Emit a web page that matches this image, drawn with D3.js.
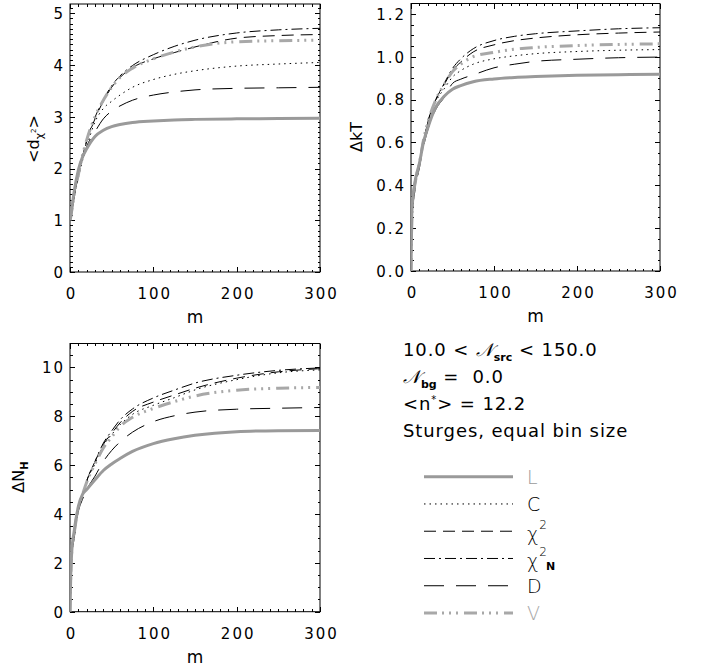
<!DOCTYPE html>
<html><head><meta charset="utf-8">
<script src="https://cdn.jsdelivr.net/npm/d3@7"></script>
<style>
body{margin:0;background:#fff;}
svg{display:block;font-family:"DejaVu Sans",sans-serif;}
</style></head><body>
<svg id="c" width="701" height="669"></svg>
<script>
// ---------- data ----------
const mValues = [0,1,2,5,10,15,20,30,40,50,60,75,100,125,150,200,250,300];
const seriesNames = ["L","C","chi2","chi2N","D","V"];

// <d_chi2>
const dchi_L     = [1.0,1.08,1.2,1.55,1.97,2.22,2.38,2.62,2.74,2.81,2.85,2.89,2.92,2.94,2.95,2.96,2.965,2.97];
const dchi_C     = [1.0,1.07,1.15,1.45,1.82,2.15,2.42,2.9,3.16,3.30,3.42,3.57,3.72,3.82,3.89,3.98,4.02,4.05];
const dchi_chi2  = [1.0,1.07,1.15,1.46,1.85,2.22,2.52,2.96,3.30,3.57,3.76,3.95,4.12,4.24,4.35,4.52,4.57,4.59];
const dchi_chi2N = [1.0,1.07,1.15,1.46,1.85,2.23,2.54,2.99,3.33,3.60,3.79,3.99,4.20,4.36,4.48,4.62,4.68,4.71];
const dchi_D     = [1.0,1.07,1.15,1.45,1.88,2.17,2.42,2.71,2.96,3.11,3.21,3.32,3.42,3.48,3.52,3.55,3.56,3.57];
const dchi_V     = [1.0,1.08,1.18,1.5,1.88,2.25,2.55,3.0,3.32,3.57,3.76,3.94,4.12,4.25,4.35,4.45,4.47,4.48];

// Delta kT
const kT_L     = [0,0.27,0.33,0.42,0.50,0.60,0.665,0.765,0.815,0.848,0.865,0.883,0.896,0.903,0.907,0.913,0.916,0.918];
const kT_C     = [0,0.22,0.30,0.40,0.49,0.59,0.67,0.79,0.85,0.905,0.935,0.965,0.99,1.004,1.014,1.024,1.03,1.033];
const kT_chi2  = [0,0.22,0.30,0.40,0.50,0.60,0.69,0.80,0.87,0.935,0.975,1.022,1.055,1.075,1.087,1.102,1.11,1.115];
const kT_chi2N = [0,0.22,0.30,0.40,0.50,0.60,0.69,0.80,0.875,0.945,0.99,1.037,1.075,1.095,1.107,1.12,1.13,1.135];
const kT_D     = [0,0.20,0.28,0.38,0.48,0.58,0.655,0.755,0.81,0.875,0.895,0.915,0.948,0.965,0.978,0.988,0.995,0.998];
const kT_V     = [0,0.25,0.32,0.41,0.50,0.61,0.69,0.80,0.87,0.93,0.965,1.0,1.02,1.035,1.043,1.052,1.057,1.06];

// Delta N_H
const NH_L     = [0,1.6,2.4,3.3,4.3,4.8,5.0,5.4,5.78,6.05,6.27,6.56,6.88,7.08,7.22,7.37,7.41,7.42];
const NH_C     = [0,1.5,2.3,3.1,4.2,4.75,5.3,6.05,6.8,7.25,7.65,8.08,8.45,8.76,9.08,9.5,9.78,9.9];
const NH_chi2  = [0,1.5,2.3,3.1,4.2,4.8,5.35,6.15,6.85,7.3,7.73,8.2,8.58,8.87,9.15,9.56,9.82,9.95];
const NH_chi2N = [0,1.5,2.3,3.1,4.2,4.8,5.35,6.15,6.9,7.4,7.85,8.3,8.75,9.07,9.36,9.68,9.88,9.98];
const NH_D     = [0,1.4,2.2,3.0,4.1,4.6,5.0,5.55,6.15,6.6,6.95,7.35,7.78,8.02,8.17,8.29,8.33,8.36];
const NH_V     = [0,1.6,2.4,3.2,4.25,4.8,5.3,6.05,6.7,7.15,7.58,7.96,8.32,8.6,8.83,9.07,9.15,9.18];

const xTickLabels = [0,100,200,300];
const dchiTicks = [0,1,2,3,4,5];
const kTTicks = [0.0,0.2,0.4,0.6,0.8,1.0,1.2];
const NHTicks = [0,2,4,6,8,10];

const infoLines = ["10.0 < ", " < 150.0", " =  0.0", "> = 12.2", "Sturges, equal bin size"];

// ---------- styles ----------
const styles = {
  L:     {stroke:"#9a9a9a", width:3, dash:null},
  C:     {stroke:"#000", width:1, dash:"1.5,4"},
  chi2:  {stroke:"#000", width:1, dash:"12,7"},
  chi2N: {stroke:"#000", width:1, dash:"11,4,2,4"},
  D:     {stroke:"#000", width:1, dash:"20,12"},
  V:     {stroke:"#a8a8a8", width:3, dash:"13,5,2,5,2,5,2,6"}
};
const drawOrder = ["chi2N","chi2","C","D","V","L"];

const svg = d3.select("#c");
const TICKFONT = 15, LS = 2;

function panel(cfg){
  const x = d3.scaleLinear().domain([0,300]).range([cfg.x0,cfg.x1]);
  const y = d3.scaleLinear().domain(cfg.yDomain).range([cfg.y1,cfg.y0]);
  const g = svg.append("g");
  const xMinor = d3.range(0,301,10);
  const yMinor = d3.range(cfg.yDomain[0], cfg.yDomain[1]+1e-9, cfg.yMinorStep).map(v=>+v.toFixed(4));
  const maj = 5, min = 2.5;
  const axes = [
    [d3.axisBottom(x), `translate(0,${cfg.y1})`, xMinor, xTickLabels],
    [d3.axisTop(x), `translate(0,${cfg.y0})`, xMinor, xTickLabels],
    [d3.axisLeft(y), `translate(${cfg.x0},0)`, yMinor, cfg.yTicks],
    [d3.axisRight(y), `translate(${cfg.x1},0)`, yMinor, cfg.yTicks]
  ];
  axes.forEach(([ax,tr,minorV,majorV])=>{
    const a1 = ax.copy ? ax : ax;
    g.append("g").attr("transform",tr)
      .call(a1.tickValues(minorV).tickSizeInner(-min).tickSizeOuter(0).tickFormat(""))
      .call(s=>s.select(".domain").remove());
  });
  [[d3.axisBottom(x), `translate(0,${cfg.y1})`, xTickLabels],
   [d3.axisTop(x), `translate(0,${cfg.y0})`, xTickLabels],
   [d3.axisLeft(y), `translate(${cfg.x0},0)`, cfg.yTicks],
   [d3.axisRight(y), `translate(${cfg.x1},0)`, cfg.yTicks]].forEach(([ax,tr,v])=>{
    g.append("g").attr("transform",tr)
      .call(ax.tickValues(v).tickSizeInner(-maj).tickSizeOuter(0).tickFormat(""))
      .call(s=>s.select(".domain").remove());
  });
  g.selectAll(".tick line").attr("stroke","#000").attr("shape-rendering","crispEdges");
  // labels via axes
  const bx = g.append("g").attr("transform",`translate(0,${cfg.y1})`)
    .call(d3.axisBottom(x).tickValues(xTickLabels).tickSize(0).tickFormat(d3.format("d")));
  bx.select(".domain").remove();
  bx.selectAll("text").attr("y",27.3).attr("dy",null).attr("dx",LS/2)
    .attr("font-size",TICKFONT).attr("letter-spacing",LS).attr("font-family","DejaVu Sans").attr("fill","#000");
  const ly = g.append("g").attr("transform",`translate(${cfg.x0},0)`)
    .call(d3.axisLeft(y).tickValues(cfg.yTicks).tickSize(0).tickFormat(d3.format(cfg.fmt)));
  ly.select(".domain").remove();
  ly.selectAll("text").attr("x",-7+LS).attr("dy","0.36em")
    .attr("font-size",TICKFONT).attr("letter-spacing",LS).attr("font-family","DejaVu Sans").attr("fill","#000");
  // frame
  g.append("rect").attr("x",cfg.x0).attr("y",cfg.y0).attr("width",cfg.x1-cfg.x0).attr("height",cfg.y1-cfg.y0)
    .attr("fill","none").attr("stroke","#000").attr("stroke-width",1);
  // x title
  g.append("text").attr("x",(cfg.x0+cfg.x1)/2).attr("y",cfg.y1+51).attr("text-anchor","middle")
    .attr("font-size",17).text("m");
  // clip
  const cid = "clip"+cfg.id;
  svg.append("clipPath").attr("id",cid).append("rect")
    .attr("x",cfg.x0).attr("y",cfg.y0).attr("width",cfg.x1-cfg.x0).attr("height",cfg.y1-cfg.y0);
  const line = d3.line().x((d,i)=>x(mValues[i])).y(d=>y(d)).curve(d3.curveMonotoneX);
  const lg = g.append("g").attr("clip-path",`url(#${cid})`);
  drawOrder.forEach(n=>{
    const st = styles[n];
    lg.append("path").datum(cfg.data[n]).attr("d",line).attr("fill","none")
      .attr("stroke",st.stroke).attr("stroke-width",st.width)
      .attr("stroke-dasharray",st.dash).attr("stroke-linejoin","round");
  });
  return {x,y,g};
}

const p1 = panel({id:1,x0:70,x1:320,y0:4,y1:272,yDomain:[0,5.18],yTicks:dchiTicks,yMinorStep:0.1,fmt:"d",
  data:{L:dchi_L,C:dchi_C,chi2:dchi_chi2,chi2N:dchi_chi2N,D:dchi_D,V:dchi_V}});
const p2 = panel({id:2,x0:411,x1:660,y0:3.5,y1:271,yDomain:[0,1.248],yTicks:kTTicks,yMinorStep:0.05,fmt:".1f",
  data:{L:kT_L,C:kT_C,chi2:kT_chi2,chi2N:kT_chi2N,D:kT_D,V:kT_V}});
const p3 = panel({id:3,x0:70,x1:320,y0:343.5,y1:611.7,yDomain:[0,10.98],yTicks:NHTicks,yMinorStep:0.5,fmt:"d",
  data:{L:NH_L,C:NH_C,chi2:NH_chi2,chi2N:NH_chi2N,D:NH_D,V:NH_V}});

// y titles
function ytitle(cx, cy, build){
  const t = svg.append("text").attr("transform",`translate(${cx},${cy}) rotate(-90)`)
    .attr("text-anchor","middle").attr("font-size",16);
  build(t);
}
ytitle(38.5,139,t=>{
  t.append("tspan").text("<d");
  t.append("tspan").attr("dy",4).attr("font-size",11).text("χ");
  t.append("tspan").attr("dy",-7).attr("font-size",7).text("2");
  t.append("tspan").attr("dy",3).text(">");
});
ytitle(362,137,t=>{ t.append("tspan").text("ΔkT"); });
ytitle(23.5,477,t=>{
  t.append("tspan").text("ΔN");
  t.append("tspan").attr("dy",4).attr("font-size",10).attr("font-weight","bold").text("H");
});

// info text
const info = svg.append("g").attr("font-size",18).attr("letter-spacing",0.9).attr("fill","#000");
const l1 = info.append("text").attr("x",403).attr("y",356).attr("xml:space","preserve");
l1.append("tspan").text(infoLines[0]);
l1.append("tspan").attr("font-style","italic").attr("font-family","DejaVu Serif").text("𝒩");
l1.append("tspan").attr("dy",5).attr("font-size",11).attr("font-weight","bold").attr("letter-spacing",0).text("src");
l1.append("tspan").attr("dy",-5).text(infoLines[1]);
const l2 = info.append("text").attr("x",403).attr("y",383).attr("xml:space","preserve");
l2.append("tspan").attr("font-style","italic").attr("font-family","DejaVu Serif").text("𝒩");
l2.append("tspan").attr("dy",5).attr("font-size",11).attr("font-weight","bold").attr("letter-spacing",0).text("bg");
l2.append("tspan").attr("dy",-5).text(infoLines[2]);
const l3 = info.append("text").attr("x",403).attr("y",410).attr("xml:space","preserve");
l3.append("tspan").text("<n");
l3.append("tspan").attr("dy",-7).attr("font-size",10).text("*");
l3.append("tspan").attr("dy",7).text(infoLines[3]);
info.append("text").attr("x",403).attr("y",436.7).text(infoLines[4]);

// legend
const legendLabels = {L:"L",C:"C",chi2:"χ",chi2N:"χ",D:"D",V:"V"};
const legendY = d3.scalePoint().domain(seriesNames).range([476.7,613]);
const lgd = svg.append("g");
seriesNames.forEach(n=>{
  const st = styles[n], yy = legendY(n);
  lgd.append("line").attr("x1",424).attr("x2",513).attr("y1",yy).attr("y2",yy)
    .attr("stroke",st.stroke).attr("stroke-width",st.width).attr("stroke-dasharray",st.dash);
  const isChi = n.startsWith("chi");
  const t = lgd.append("text").attr("x",527).attr("y",yy+(isChi?10:7)).attr("font-size",19)
    .attr("fill",(n==="L"||n==="V")?st.stroke:"#000").attr("font-weight",300);
  t.append("tspan").text(legendLabels[n]);
  if(isChi){
    t.append("tspan").attr("dy",-12).attr("dx",1).attr("font-size",12).text("2");
    if(n==="chi2N") t.append("tspan").attr("dy",14).attr("dx",-1).attr("font-size",11).attr("font-weight","bold").text("N");
  }
});
</script>
</body></html>
